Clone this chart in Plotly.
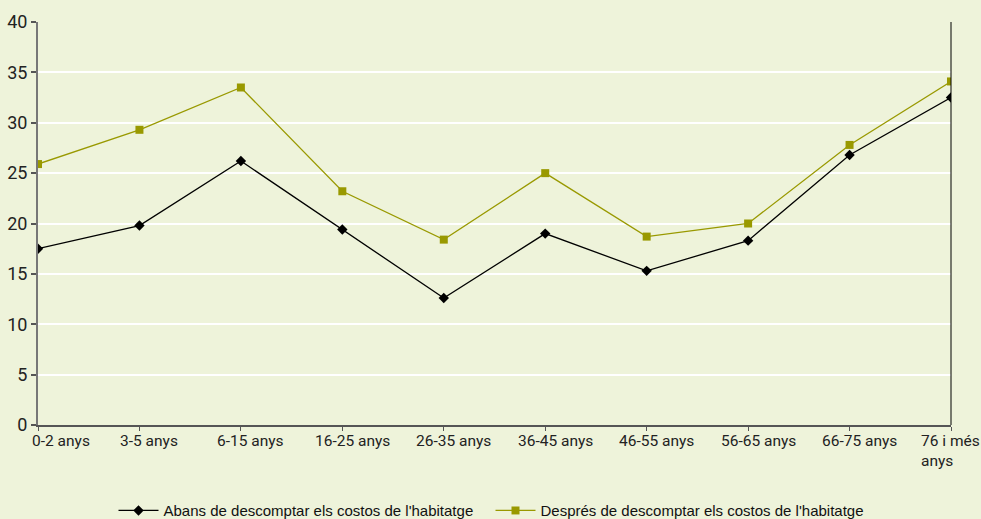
import plotly.graph_objects as go

categories = ["0-2 anys", "3-5 anys", "6-15 anys", "16-25 anys", "26-35 anys",
              "36-45 anys", "46-55 anys", "56-65 anys", "66-75 anys", "76 i més<br>anys"]
abans = [17.5, 19.8, 26.2, 19.4, 12.6, 19.0, 15.3, 18.3, 26.8, 32.5]
despres = [25.9, 29.3, 33.5, 23.2, 18.4, 25.0, 18.7, 20.0, 27.8, 34.1]
name_abans = "Abans de descomptar els costos de l'habitatge"
name_despres = "Després de descomptar els costos de l'habitatge"
y_ticks = [0, 5, 10, 15, 20, 25, 30, 35, 40]

BG = "#EEF3DA"
OLIVE = "#999900"
xs = list(range(len(categories)))

fig = go.Figure()
fig.add_trace(go.Scatter(x=xs, y=abans, name=name_abans, mode="lines+markers",
                         line=dict(color="black", width=1.3),
                         marker=dict(symbol="diamond", size=8, color="black")))
fig.add_trace(go.Scatter(x=xs, y=despres, name=name_despres, mode="lines+markers",
                         line=dict(color=OLIVE, width=1.3),
                         marker=dict(symbol="square", size=8, color=OLIVE)))

# x tick labels as annotations (offset like the original)
for i, lab in enumerate(categories):
    if i == 0:
        kw = dict(xanchor="left", xshift=-8)
    elif i == len(categories) - 1:
        kw = dict(xanchor="left", xshift=-32, align="left")
    else:
        kw = dict(xanchor="center", xshift=10)
    fig.add_annotation(x=i, y=0, xref="x", yref="paper", text=lab, showarrow=False,
                       yanchor="top", yshift=-5, font=dict(family="Roboto", size=15.5, color="#222"),
                       **kw)

fig.add_shape(type="line", xref="paper", yref="paper", x0=1, x1=1, y0=0, y1=1,
              line=dict(color="black", width=1))

fig.update_layout(
    width=981, height=519,
    margin=dict(l=38, r=30, t=22, b=94, autoexpand=False),
    paper_bgcolor=BG, plot_bgcolor=BG,
    showlegend=True,
    legend=dict(orientation="h", x=0.5, xanchor="center", xref="container",
                y=0.016, yanchor="middle", yref="container",
                font=dict(family="Liberation Sans", size=15, color="#111"),
                bgcolor="rgba(0,0,0,0)", itemwidth=40,
                entrywidth=322, entrywidthmode="pixels"),
    xaxis=dict(range=[0, len(categories) - 1], tickvals=xs, ticktext=[""] * len(xs),
               showgrid=False, zeroline=False, showline=True, linecolor="#555", linewidth=1.5,
               ticks="outside", ticklen=4, tickcolor="#555", tickwidth=1),
    yaxis=dict(range=[0, 40], tickvals=y_ticks, showgrid=True, gridcolor="white", gridwidth=1.5,
               zeroline=False, showline=True, linecolor="#777", linewidth=2,
               ticks="outside", ticklen=5, tickcolor="#555", tickwidth=1.5,
               tickfont=dict(family="Roboto", size=18, color="#222")),
)

fig.write_html("out.html", config={"displayModeBar": False},
               post_script="document.body.style.margin='0';document.body.style.padding='0';")
